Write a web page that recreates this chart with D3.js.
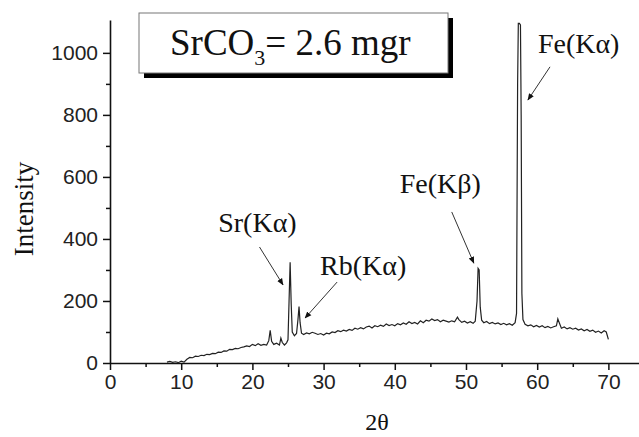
<!DOCTYPE html>
<html>
<head>
<meta charset="utf-8">
<script src="https://cdn.jsdelivr.net/npm/d3@7"></script>
<style>
  body { margin: 0; background: #fff; }
  svg { display: block; }
</style>
</head>
<body>
<div id="chart"></div>
<script>
// data
var twoTheta = [8.0, 8.4, 8.8, 9.2, 9.6, 10.0, 10.4, 10.8, 11.2, 11.6, 12.0, 12.4, 12.8, 13.2, 13.6, 14.0, 14.4, 14.8,
  15.2, 15.6, 16.0, 16.4, 16.8, 17.2, 17.6, 18.0, 18.4, 18.8, 19.2, 19.6, 20.0, 20.4, 20.8, 21.2, 21.6, 22.0, 22.3, 22.5,
  22.7, 23.0, 23.4, 23.8, 24.0, 24.2, 24.5, 24.8, 25.0, 25.15, 25.3, 25.45, 25.6, 25.9, 26.2, 26.4, 26.55, 26.7, 26.9,
  27.2, 27.6, 28.0, 28.4, 28.8, 29.2, 29.6, 30.0, 30.4, 30.8, 31.2, 31.6, 32.0, 32.4, 32.8, 33.2, 33.6, 34.0, 34.4, 34.8,
  35.2, 35.6, 36.0, 36.4, 36.8, 37.2, 37.6, 38.0, 38.4, 38.8, 39.2, 39.6, 40.0, 40.4, 40.8, 41.2, 41.6, 42.0, 42.4, 42.8,
  43.2, 43.6, 44.0, 44.4, 44.8, 45.2, 45.6, 46.0, 46.4, 46.8, 47.2, 47.6, 48.0, 48.4, 48.8, 49.0, 49.4, 49.8, 50.2, 50.6,
  51.0, 51.3, 51.55, 51.7, 51.85, 52.0, 52.2, 52.5, 52.9, 53.3, 53.7, 54.1, 54.5, 54.9, 55.3, 55.7, 56.1, 56.5, 56.9,
  57.1, 57.25, 57.35, 57.5, 57.65, 57.75, 57.85, 58.0, 58.3, 58.7, 59.1, 59.5, 59.9, 60.3, 60.7, 61.1, 61.5, 61.9, 62.3,
  62.7, 62.9, 63.1, 63.4, 63.8, 64.2, 64.6, 65.0, 65.4, 65.8, 66.2, 66.6, 67.0, 67.4, 67.8, 68.2, 68.6, 69.0, 69.4, 69.7, 70.0];
var intensity = [3, 5, 2, 4, 1, 6, 3, 12, 18, 17, 22, 21, 25, 24, 28, 27, 31, 30,
  35, 34, 39, 38, 44, 43, 47, 46, 50, 52, 55, 53, 60, 56, 62, 57, 60, 58, 72, 105,
  70, 60, 64, 58, 80, 66, 58, 65, 75, 200, 325, 190, 100, 88, 95, 140, 182, 130, 96,
  92, 97, 94, 99, 96, 92, 95, 90, 96, 94, 100, 98, 104, 101, 106, 103, 108, 105, 112, 109,
  114, 110, 116, 119, 113, 120, 117, 122, 118, 126, 121, 124, 120, 127, 123, 129, 125, 133, 127, 131,
  126, 136, 130, 138, 135, 142, 137, 140, 133, 138, 135, 132, 136, 133, 148, 140, 131, 135, 129, 133,
  128, 135, 200, 305, 300, 180, 138, 130, 134, 127, 131, 126, 129, 124, 128, 123, 127, 122, 130,
  160, 900, 1095, 1095, 1090, 800, 225, 140, 125, 120, 123, 117, 121, 116, 120, 114, 118, 113, 117,
  120, 142, 130, 112, 116, 110, 114, 109, 112, 106, 110, 104, 108, 102, 106, 99, 103, 97, 104, 100, 76];

var xTicks = [0, 10, 20, 30, 40, 50, 60, 70];
var yTicks = [0, 200, 400, 600, 800, 1000];

// peak annotations: label, label anchor (data units), arrow tail and tip (data units)
var peakNames = ["Sr(K\u03b1)", "Rb(K\u03b1)", "Fe(K\u03b2)", "Fe(K\u03b1)"];
var peakLabelAt = [[15.2, 422], [29.5, 284], [40.7, 548], [60.1, 1000]];
var peakArrowFrom = [[21.0, 374], [31.9, 261], [48.0, 487], [61.8, 955]];
var peakArrowTo = [[24.3, 252], [27.4, 145], [51.1, 322], [58.7, 848]];

var width = 639, height = 437;
var margin = {left: 110, right: 0, top: 20, bottom: 74};
var serif = "Liberation Serif, Times New Roman, serif";
var sans = "Liberation Sans, Arial, sans-serif";

var x = d3.scaleLinear().domain([0, 74.3]).range([margin.left, width - margin.right]);
var y = d3.scaleLinear().domain([0, 1106]).range([height - margin.bottom, margin.top]);

var svg = d3.select("#chart").append("svg")
  .attr("width", width)
  .attr("height", height);

svg.append("defs").append("marker")
  .attr("id", "arrow")
  .attr("viewBox", "0 0 10 10")
  .attr("refX", 9).attr("refY", 5)
  .attr("markerWidth", 7).attr("markerHeight", 7)
  .attr("orient", "auto")
  .append("path")
  .attr("d", "M0,1 L10,5 L0,9 Z")
  .attr("fill", "#111");

// minor ticks
svg.append("g")
  .attr("transform", "translate(0," + y(0) + ")")
  .call(d3.axisBottom(x).tickValues(d3.range(5, 75, 10)).tickSize(4).tickFormat(""))
  .call(function(g) { g.select(".domain").remove(); })
  .selectAll("line").attr("stroke", "#111").attr("stroke-width", 1.5);

svg.append("g")
  .attr("transform", "translate(" + x(0) + ",0)")
  .call(d3.axisLeft(y).tickValues(d3.range(100, 1100, 200)).tickSize(4).tickFormat(""))
  .call(function(g) { g.select(".domain").remove(); })
  .selectAll("line").attr("stroke", "#111").attr("stroke-width", 1.5);

// major axes
var xAxis = svg.append("g")
  .attr("transform", "translate(0," + y(0) + ")")
  .call(d3.axisBottom(x).tickValues(xTicks).tickFormat(d3.format("d"))
    .tickSize(7).tickSizeOuter(0).tickPadding(4));

var yAxis = svg.append("g")
  .attr("transform", "translate(" + x(0) + ",0)")
  .call(d3.axisLeft(y).tickValues(yTicks).tickFormat(d3.format("d"))
    .tickSize(7).tickSizeOuter(0).tickPadding(5));

[xAxis, yAxis].forEach(function(g) {
  g.attr("font-family", sans).attr("font-size", 21);
  g.select(".domain").attr("stroke", "#111").attr("stroke-width", 1.6);
  g.selectAll(".tick line").attr("stroke", "#111").attr("stroke-width", 1.5);
  g.selectAll(".tick text").attr("fill", "#222");
});

// spectrum
var line = d3.line()
  .x(function(d, i) { return x(twoTheta[i]); })
  .y(function(d) { return y(d); });

svg.append("path")
  .datum(intensity)
  .attr("d", line)
  .attr("fill", "none")
  .attr("stroke", "#222")
  .attr("stroke-width", 1.2);

// axis titles
svg.append("text")
  .attr("transform", "translate(33,209) rotate(-90)")
  .attr("text-anchor", "middle")
  .attr("font-family", serif)
  .attr("font-size", 27)
  .attr("fill", "#111")
  .text("Intensity");

svg.append("text")
  .attr("x", 377)
  .attr("y", 430)
  .attr("text-anchor", "middle")
  .attr("font-family", serif)
  .attr("font-size", 24)
  .attr("fill", "#111")
  .text("2\u03b8");

// peak labels and arrows
peakNames.forEach(function(name, i) {
  svg.append("text")
    .attr("x", x(peakLabelAt[i][0]))
    .attr("y", y(peakLabelAt[i][1]))
    .attr("font-family", serif)
    .attr("font-size", 28)
    .attr("fill", "#111")
    .text(name);
  svg.append("line")
    .attr("x1", x(peakArrowFrom[i][0])).attr("y1", y(peakArrowFrom[i][1]))
    .attr("x2", x(peakArrowTo[i][0])).attr("y2", y(peakArrowTo[i][1]))
    .attr("stroke", "#333")
    .attr("stroke-width", 1)
    .attr("marker-end", "url(#arrow)");
});

// sample box with drop shadow
var box = svg.append("g").attr("transform", "translate(139,13)");
box.append("rect")
  .attr("x", 5).attr("y", 5).attr("width", 309).attr("height", 60)
  .attr("fill", "#000");
box.append("rect")
  .attr("x", 0).attr("y", 0).attr("width", 309).attr("height", 60)
  .attr("fill", "#fff").attr("stroke", "#777").attr("stroke-width", 1);
var title = box.append("text")
  .attr("x", 31).attr("y", 42)
  .attr("font-family", serif)
  .attr("font-size", 37)
  .attr("fill", "#111");
title.append("tspan").text("SrCO");
title.append("tspan").attr("font-size", 22).attr("dy", 10).text("3");
title.append("tspan").attr("dy", -10).text("= 2.6 mgr");
</script>
</body>
</html>
